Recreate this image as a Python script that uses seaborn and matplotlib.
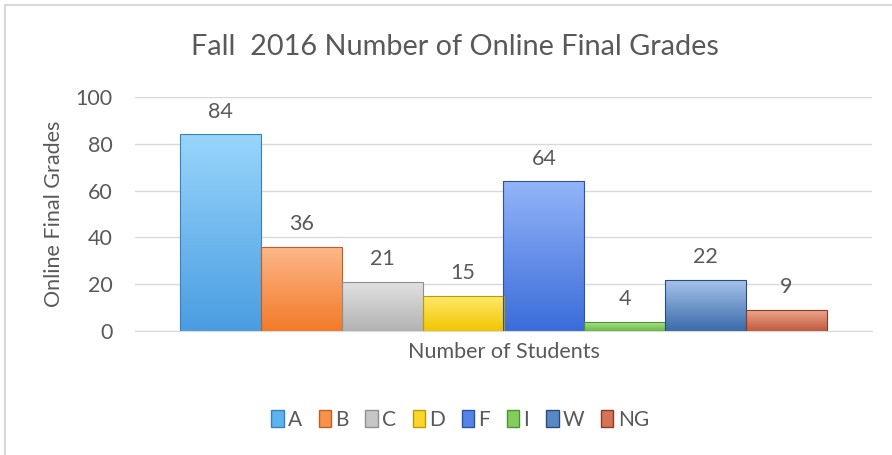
import numpy as np
import pandas as pd
import matplotlib
matplotlib.use("Agg")
import matplotlib.pyplot as plt
import seaborn as sns
from matplotlib.colors import LinearSegmentedColormap
from matplotlib.patches import Rectangle

# values
grades = ["A", "B", "C", "D", "F", "I", "W", "NG"]
counts = [84, 36, 21, 15, 64, 4, 22, 9]
category = "Number of Students"

# bar colours: (top, bottom, edge)
top_colors = ["#98D6FB", "#FDB88A", "#E2E2E2", "#FFEA6E", "#93B4F8", "#B8E69E", "#A9C5EC", "#EFAA92"]
bottom_colors = ["#4A9DE2", "#F37A28", "#B2B2B2", "#F2C500", "#3A6CDA", "#66BA40", "#3A6BAA", "#C05A3E"]
edge_colors = ["#3A7FBF", "#BE5F28", "#8F8F8F", "#BC9B00", "#2C52A6", "#4A9430", "#284C7E", "#8A3B26"]
mid_colors = ["#5BB3F0", "#F7924A", "#C6C6C6", "#FAD62A", "#5584E6", "#85CC5E", "#5A88C4", "#D47558"]

df = pd.DataFrame({"grade": grades, "count": counts, "cat": [category] * len(grades)})

sns.set_style("white")
plt.rcParams["font.family"] = ["Lato", "DejaVu Sans"]
text_color = "#595959"
grid_color = "#D9D9D9"

fig = plt.figure(figsize=(8.92, 4.55), dpi=100)
ax = fig.add_axes([135 / 892, 1 - 331 / 455, (872 - 135) / 892, (331 - 97) / 455])

sns.barplot(data=df, x="cat", y="count", hue="grade", hue_order=grades,
            palette=mid_colors, width=0.877, legend=True, ax=ax, saturation=1)

# gradient fill for each bar
grad = np.linspace(0, 1, 256).reshape(-1, 1)
for cont, top, bot, edge in zip(ax.containers, top_colors, bottom_colors, edge_colors):
    for patch in cont:
        x0, y0 = patch.get_xy()
        w, h = patch.get_width(), patch.get_height()
        cmap = LinearSegmentedColormap.from_list("g", [bot, top])
        im = ax.imshow(grad, extent=[x0, x0 + w, y0, y0 + h], origin="lower",
                       cmap=cmap, aspect="auto", zorder=2, interpolation="bilinear")
        im.set_clip_path(patch)
        patch.set_facecolor("none")
        patch.set_edgecolor(edge)
        patch.set_linewidth(0.8)
        patch.set_zorder(3)
    ax.bar_label(cont, padding=9, fontsize=15.5, color=text_color)

ax.set_xlim(-0.5, 0.5)
ax.set_ylim(0, 100)
ax.set_yticks(range(0, 101, 20))
ax.yaxis.grid(True, color=grid_color, linewidth=1)
ax.set_axisbelow(True)
for s in ["top", "right", "left"]:
    ax.spines[s].set_visible(False)
ax.spines["bottom"].set_color(grid_color)
ax.tick_params(axis="y", length=0, pad=16, labelsize=15.5, labelcolor=text_color)
ax.tick_params(axis="x", length=0, pad=8, labelsize=15.5, labelcolor=text_color)
ax.set_xlabel("")
ax.set_ylabel("")

fig.text(54 / 892, 1 - 214 / 455, "Online Final Grades", rotation=90,
         ha="center", va="center", fontsize=15.5, color=text_color)
fig.text(455 / 892, 1 - 47 / 455, "Fall  2016 Number of Online Final Grades",
         ha="center", va="center", fontsize=20.8, color=text_color)

# legend at the bottom
handles, labels = ax.get_legend_handles_labels()
ax.get_legend().remove()
for hnd, edge in zip(handles, edge_colors):
    hnd.set_edgecolor(edge)
leg = fig.legend(handles, labels, loc="center", bbox_to_anchor=(460 / 892, 1 - 420 / 455),
                 ncol=8, frameon=False, fontsize=15, handlelength=0.6, handleheight=0.9,
                 handletextpad=0.2, columnspacing=0.8, labelcolor=text_color)

# chart border
fig.add_artist(Rectangle((5 / 892, -0.2), 1.2, 1.2 - 5 / 455, transform=fig.transFigure,
                         fill=False, edgecolor=grid_color, linewidth=1.5))

fig.savefig("out.png", dpi=100)
